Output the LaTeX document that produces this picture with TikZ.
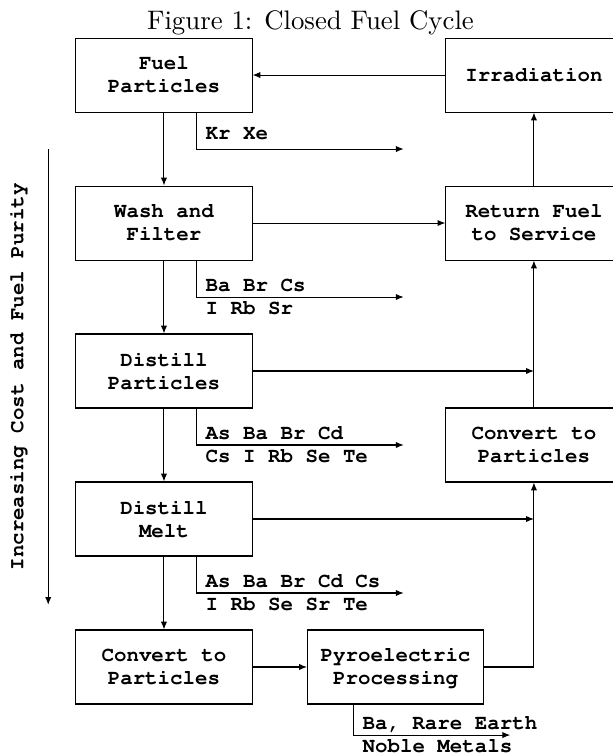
\documentclass[tikz,border=0pt]{standalone}
\usepackage[T1,TU]{fontenc}
\usepackage{tikz}
\usetikzlibrary{positioning,arrows.meta,calc}
\newcommand{\courbf}{\fontencoding{T1}\fontfamily{pcr}\fontseries{b}\fontshape{n}%
  \fontsize{8}{8.85}\selectfont}
\tikzset{
  node-box/.style={draw,thin,minimum height=10mm,minimum width=23.8mm,
    align=center,font=\courbf},
  node-tag/.style={font=\courbf,align=left},
  arrow/.style={-{Latex[length=3pt,width=2.4pt]},thin},
}

\begin{document}
\begin{tikzpicture}
  \useasboundingbox (-22.16mm,-92.03mm) rectangle (60.68mm,10.14mm);
  \node[anchor=base,font=\fontsize{10.3}{12}\selectfont] (title) at (19.8mm,6.2mm)
    {Figure 1: Closed Fuel Cycle};
  % process chain, cheapest first
  \node[node-box] at (0,0)          (fuel)  {Fuel\\Particles};
  \node[node-box] at (0,-20mm)      (wash)  {Wash and\\Filter};
  \node[node-box] at (0,-40mm)      (distp) {Distill\\Particles};
  \node[node-box] at (0,-60mm)      (distm) {Distill\\Melt};
  \node[node-box] at (0,-80mm)      (convl) {Convert to\\Particles};
  \node[node-box] at (31.3mm,-80mm) (pyro)  {Pyroelectric\\Processing};
  % way back to the reactor
  \node[node-box] at (50mm,0)       (irr)   {Irradiation};
  \node[node-box] at (50mm,-20mm)   (ret)   {Return Fuel\\to Service};
  \node[node-box] at (50mm,-50mm)   (convr) {Convert to\\Particles};

  \foreach \a/\b in {fuel/wash, wash/distp, distp/distm, distm/convl}
    \draw[arrow] (\a) -- (\b);
  \draw[arrow] (irr) -- (fuel);
  \draw[arrow] (wash) -- (ret);
  \draw[arrow] (distp.east) -- (distp.east -| convr.north);
  \draw[arrow] (distm.east) -- (distm.east -| convr.south);
  \draw[arrow] (convl) -- (pyro);
  \draw[arrow] (pyro.east) -| (convr.south);
  \draw[arrow] (convr) -- (ret);
  \draw[arrow] (ret) -- (irr);

  % removed fission products
  \coordinate (out1) at (32.4mm,-10mm);
  \coordinate (out2) at (32.4mm,-30mm);
  \coordinate (out3) at (32.4mm,-50mm);
  \coordinate (out4) at (32.4mm,-70mm);
  \coordinate (out5) at (46.8mm,-89.2mm);
  \draw[arrow] ([xshift=4.4mm]fuel.south) |- node[node-tag,pos=.5,anchor=south west]
    {Kr Xe} (out1);
  \draw[arrow] ([xshift=4.4mm]wash.south) |- node[node-tag,pos=.5,anchor=west]
    {Ba Br Cs\\I Rb Sr} (out2);
  \draw[arrow] ([xshift=4.4mm]distp.south) |- node[node-tag,pos=.5,anchor=west]
    {As Ba Br Cd\\Cs I Rb Se Te} (out3);
  \draw[arrow] ([xshift=4.4mm]distm.south) |- node[node-tag,pos=.5,anchor=west]
    {As Ba Br Cd Cs\\I Rb Se Sr Te} (out4);
  \draw[arrow] ([xshift=-5.7mm]pyro.south) |- node[node-tag,pos=.5,anchor=west]
    {Ba, Rare Earth\\Noble Metals} (out5);

  % cost axis
  \coordinate (costtop) at (-15.64mm,-10mm);
  \coordinate (costbot) at (-15.64mm,-71.6mm);
  \draw[arrow] (costtop) -- node[node-tag,midway,rotate=90,yshift=4.1mm]
    {Increasing Cost and Fuel Purity} (costbot);
\end{tikzpicture}
\end{document}
